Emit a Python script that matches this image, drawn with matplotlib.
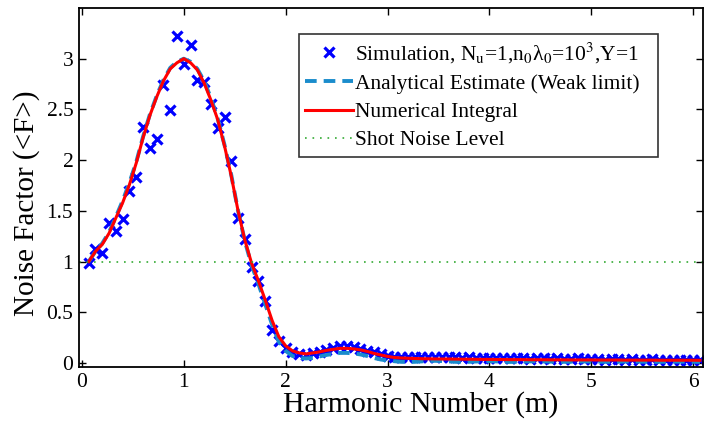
import numpy as np
import matplotlib.pyplot as plt

plt.rcParams['font.family'] = ['Liberation Serif', 'DejaVu Serif']
plt.rcParams['mathtext.fontset'] = 'stix'

# harmonic number grid of the samples (m)
harmonic = [
    0.067, 0.133, 0.2, 0.267, 0.333, 0.4, 0.467, 0.533, 0.6, 0.667, 0.733, 0.8, 0.867, 0.933, 1.0,
    1.067, 1.133, 1.2, 1.267, 1.333, 1.4, 1.467, 1.533, 1.6, 1.667, 1.733, 1.8, 1.867, 1.933, 2.0,
    2.067, 2.133, 2.2, 2.267, 2.333, 2.4, 2.467, 2.533, 2.6, 2.667, 2.733, 2.8, 2.867, 2.933, 3.0,
    3.067, 3.133, 3.2, 3.267, 3.333, 3.4, 3.467, 3.533, 3.6, 3.667, 3.733, 3.8, 3.867, 3.933, 4.0,
    4.067, 4.133, 4.2, 4.267, 4.333, 4.4, 4.467, 4.533, 4.6, 4.667, 4.733, 4.8, 4.867, 4.933, 5.0,
    5.067, 5.133, 5.2, 5.267, 5.333, 5.4, 5.467, 5.533, 5.6, 5.667, 5.733, 5.8, 5.867, 5.933, 6.0,
    6.067,
]

# simulated noise factor
sim = [
    0.99, 1.12, 1.08, 1.38, 1.30, 1.42, 1.70, 1.83, 2.33, 2.12, 2.21, 2.74, 2.49, 3.22, 2.95,
    3.14, 2.79, 2.77, 2.55, 2.32, 2.43, 1.99, 1.43, 1.22, 0.95, 0.81, 0.61, 0.33, 0.22, 0.15,
    0.11, 0.09, 0.08, 0.095, 0.11, 0.13, 0.15, 0.17, 0.165, 0.16, 0.14, 0.12, 0.105, 0.09, 0.07,
    0.06, 0.06, 0.055, 0.06, 0.055, 0.06, 0.055, 0.06, 0.055, 0.055, 0.05, 0.055, 0.05, 0.045, 0.05,
    0.045, 0.045, 0.05, 0.045, 0.045, 0.04, 0.045, 0.045, 0.04, 0.045, 0.04, 0.04, 0.045, 0.04, 0.04,
    0.04, 0.035, 0.04, 0.04, 0.035, 0.04, 0.035, 0.035, 0.04, 0.035, 0.035, 0.035, 0.03, 0.035, 0.035,
    0.03,
]

# analytical estimate (weak limit)
analytical = [
    1.00, 1.10, 1.18, 1.29, 1.44, 1.60, 1.78, 1.98, 2.23, 2.45, 2.63, 2.79, 2.91, 2.97, 3.00,
    2.97, 2.90, 2.78, 2.61, 2.41, 2.15, 1.85, 1.50, 1.20, 0.96, 0.78, 0.58, 0.38, 0.21, 0.12,
    0.07, 0.05, 0.045, 0.05, 0.065, 0.08, 0.09, 0.10, 0.10, 0.095, 0.085, 0.07, 0.05, 0.035, 0.025,
    0.018, 0.012, 0.01, 0.012, 0.016, 0.02, 0.022, 0.02, 0.016, 0.012, 0.01, 0.012, 0.015, 0.018, 0.018,
    0.016, 0.013, 0.011, 0.012, 0.014, 0.016, 0.017, 0.016, 0.014, 0.012, 0.012, 0.013, 0.015, 0.016, 0.015,
    0.014, 0.012, 0.012, 0.013, 0.015, 0.015, 0.014, 0.013, 0.012, 0.012, 0.013, 0.014, 0.014, 0.013, 0.012,
    0.012,
]

# numerical integral
numerical = [
    1.00, 1.10, 1.17, 1.28, 1.43, 1.58, 1.76, 1.97, 2.22, 2.44, 2.62, 2.78, 2.90, 2.96, 3.00,
    2.96, 2.89, 2.76, 2.59, 2.40, 2.14, 1.84, 1.50, 1.21, 0.98, 0.81, 0.62, 0.42, 0.26, 0.17,
    0.12, 0.10, 0.09, 0.10, 0.11, 0.125, 0.135, 0.145, 0.145, 0.14, 0.13, 0.115, 0.095, 0.08, 0.065,
    0.055, 0.05, 0.047, 0.045, 0.043, 0.042, 0.041, 0.04, 0.04, 0.039, 0.038, 0.038, 0.037, 0.036, 0.036,
    0.035, 0.035, 0.034, 0.034, 0.034, 0.033, 0.033, 0.033, 0.032, 0.032, 0.032, 0.031, 0.031, 0.031, 0.031,
    0.030, 0.030, 0.030, 0.030, 0.029, 0.029, 0.029, 0.029, 0.029, 0.028, 0.028, 0.028, 0.028, 0.028, 0.028,
    0.027,
]

shot_noise = 1.0

xticks = [0, 1, 2, 3, 4, 5, 6]
yticks = [0, 0.5, 1, 1.5, 2, 2.5, 3]
ytick_labels = ['0', '0.5', '1', '1.5', '2', '2.5', '3']

fig = plt.figure(figsize=(7.04, 4.21), dpi=100)
ax = fig.add_axes([0.112, 0.128, 0.887, 0.853])

ax.plot(harmonic, sim, 'x', color='#0000ff', ms=7.5, mew=2.3,
        label='Simulation, N$_\\mathrm{u}$=1,n$_0$λ$_0$=10$^3$,Y=1')
ax.plot(harmonic, analytical, '--', color='#1a8ccc', lw=2.8, dashes=(3, 1.8),
        label='Analytical Estimate (Weak limit)')
ax.plot(harmonic, numerical, '-', color='#ff0000', lw=2.2, label='Numerical Integral')
ax.axhline(shot_noise, color='#33aa33', lw=1.2, ls=(0, (1, 3.5)), label='Shot Noise Level')

ax.set_xlim(-0.03, 6.1)
ax.set_ylim(-0.04, 3.5)
ax.set_xticks(xticks)
ax.set_yticks(yticks)
ax.set_yticklabels(ytick_labels)
ax.tick_params(direction='in', top=True, right=True, labelsize=15.5, length=5, width=1, pad=4)
for s in ax.spines.values():
    s.set_linewidth(1.3)

ax.set_xlabel('Harmonic Number (m)', fontsize=21.5)
ax.set_ylabel('Noise Factor (<F>)', fontsize=21)
ax.xaxis.set_label_coords(0.548, -0.066)
ax.yaxis.set_label_coords(-0.062, 0.457)

leg = ax.legend(loc='upper left', bbox_to_anchor=(0.3526, 0.0, 0.5754, 0.9276), mode='expand',
                fontsize=15.5, frameon=True, fancybox=False, handlelength=2.2, handletextpad=0.1,
                borderpad=0.3, labelspacing=0.38, borderaxespad=0)
leg.get_frame().set_edgecolor('black')
leg.get_frame().set_linewidth(1.2)

fig.savefig('out.png', dpi=100)
